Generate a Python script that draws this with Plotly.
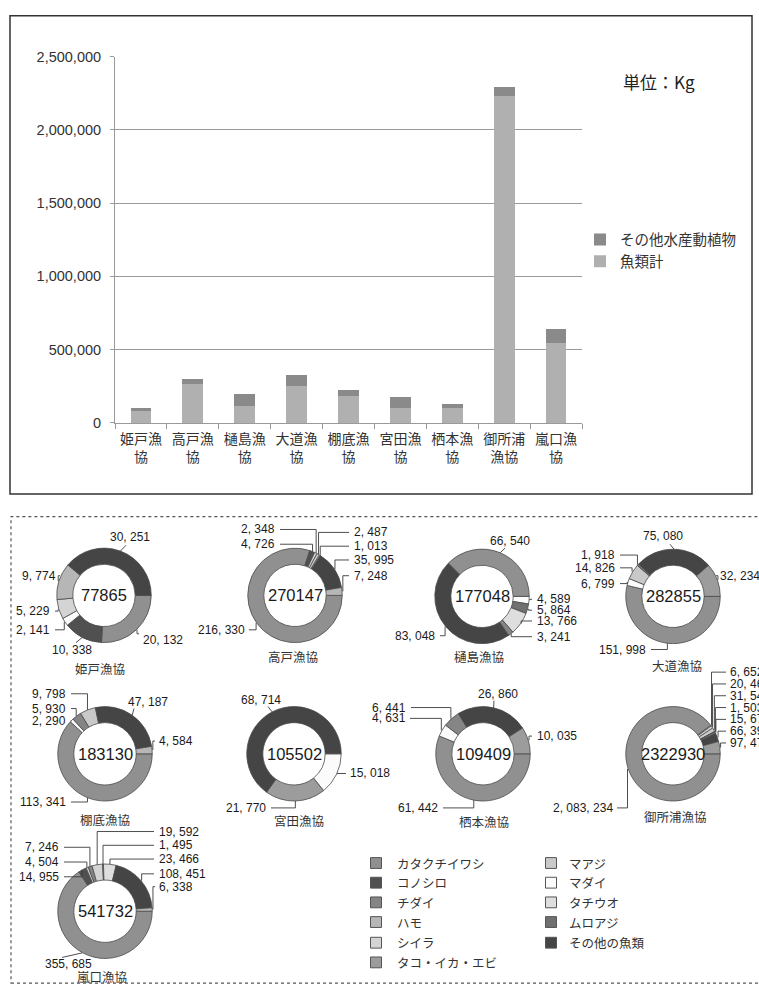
import plotly.graph_objects as go
import math

W, H = 759, 994

# ---------------- data ----------------
bar_categories = ["姫戸漁協", "高戸漁協", "樋島漁協", "大道漁協", "棚底漁協",
                  "宮田漁協", "栖本漁協", "御所浦漁協", "嵐口漁協"]
fish_total = [77865, 265000, 115000, 255000, 183000, 105000, 102000, 2230000, 542000]
other_total = [26000, 35000, 80000, 72000, 43000, 70000, 24000, 65000, 100000]

fish_categories = ["カタクチイワシ", "コノシロ", "チダイ", "ハモ", "シイラ", "タコ・イカ・エビ",
                   "マアジ", "マダイ", "タチウオ", "ムロアジ", "その他の魚類"]

donut_names = ["姫戸漁協", "高戸漁協", "樋島漁協", "大道漁協", "棚底漁協",
               "宮田漁協", "栖本漁協", "御所浦漁協", "嵐口漁協"]

himedo_values = [20132, 10338, 2141, 5229, 9774, 30251]
himedo_cats = ["カタクチイワシ", "コノシロ", "マダイ", "シイラ", "ハモ", "その他の魚類"]

takado_values = [216330, 4726, 2348, 2487, 1013, 35995, 7248]
takado_cats = ["カタクチイワシ", "コノシロ", "シイラ", "マアジ", "マダイ", "その他の魚類", "ハモ"]

hishima_values = [4589, 5864, 13766, 3241, 83048, 66540]
hishima_cats = ["マダイ", "ムロアジ", "タチウオ", "チダイ", "その他の魚類", "カタクチイワシ"]

oomichi_values = [151998, 6799, 14826, 1918, 75080, 32234]
oomichi_cats = ["カタクチイワシ", "マダイ", "マアジ", "ムロアジ", "その他の魚類", "タコ・イカ・エビ"]

tanasoko_values = [113341, 2290, 5930, 9798, 47187, 4584]
tanasoko_cats = ["カタクチイワシ", "マダイ", "チダイ", "マアジ", "その他の魚類", "ハモ"]

miyata_values = [15018, 21770, 68714]
miyata_cats = ["マダイ", "タコ・イカ・エビ", "その他の魚類"]

sumoto_values = [61442, 4631, 6441, 26860, 10035]
sumoto_cats = ["カタクチイワシ", "マダイ", "チダイ", "その他の魚類", "タコ・イカ・エビ"]

goshoura_values = [2083234, 6652, 20463, 31541, 1503, 15672, 66391, 97474]
goshoura_cats = ["カタクチイワシ", "マダイ", "シイラ", "マアジ", "ハモ", "ムロアジ", "その他の魚類", "タコ・イカ・エビ"]

arakuchi_values = [355685, 14955, 4504, 7246, 19592, 1495, 23466, 108451, 6338]
arakuchi_cats = ["カタクチイワシ", "コノシロ", "マアジ", "チダイ", "シイラ", "ムロアジ", "タチウオ", "その他の魚類", "ハモ"]

donut_values = [himedo_values, takado_values, hishima_values, oomichi_values, tanasoko_values,
                miyata_values, sumoto_values, goshoura_values, arakuchi_values]
donut_cats = [himedo_cats, takado_cats, hishima_cats, oomichi_cats, tanasoko_cats,
              miyata_cats, sumoto_cats, goshoura_cats, arakuchi_cats]

# ---------------- styles / layout positions ----------------
cat_colors = {
    "カタクチイワシ": "#909090", "コノシロ": "#505050", "チダイ": "#858585", "ハモ": "#b6b6b6",
    "シイラ": "#d4d4d4", "タコ・イカ・エビ": "#9c9c9c", "マアジ": "#c9c9c9", "マダイ": "#fbfbfb",
    "タチウオ": "#dedede", "ムロアジ": "#707070", "その他の魚類": "#454545",
}

# donut centres (px) and outer radius
donut_centres = [(104, 597), (295, 597), (482, 598), (673, 598),
                 (105, 758), (294, 758), (483, 758), (673, 758), (105, 918)]
donut_R = 48
hole_ratio = 0.66

title_pos = [(100, 671), (293, 659), (479, 659), (677, 668),
             (105, 825), (299, 826), (484, 827), (675, 822), (102, 984)]

# label layout per slice: (text x, text y, anchor, leader-start x, leader-start y)
label_layout = [
    [(141, 642, "left", 139, 636), (72, 653, "center", 76, 645), (52, 632, "right", 55, 632),
     (52, 613, "right", 55, 613), (58, 577, "right", 60, 577), (130, 538, "center", 126, 546)],
    [(247, 632, "right", 249, 632), (277, 545, "right", 280, 545), (277, 530, "right", 280, 530),
     (352, 533, "left", 349, 533), (352, 547, "left", 349, 547), (352, 561, "left", 349, 561),
     (352, 577, "left", 349, 577)],
    [(535, 601, "left", 532, 601), (535, 612, "left", 532, 612), (535, 623, "left", 532, 623),
     (535, 639, "left", 532, 639), (437, 638, "right", 440, 638), (510, 542, "center", 505, 549)],
    [(648, 652, "right", 651, 652), (617, 585, "right", 620, 585), (617, 569, "right", 620, 569),
     (617, 556, "right", 620, 556), (663, 537, "center", 670, 545), (718, 577, "left", 716, 577)],
    [(68, 807, "right", 71, 807), (68, 725, "right", 71, 725), (68, 712, "right", 71, 712),
     (68, 697, "right", 71, 697), (148, 705, "center", 134, 712), (157, 745, "left", 155, 745)],
    [(348, 778, "left", 346, 778), (268, 813, "right", 271, 813), (261, 703, "center", 268, 710)],
    [(440, 813, "right", 443, 813), (408, 722, "right", 410, 722), (408, 711, "right", 411, 711),
     (498, 697, "center", 494, 704), (535, 740, "left", 532, 740)],
    [(615, 813, "right", 617, 813), (728, 675, "left", 726, 675), (728, 687, "left", 726, 687),
     (728, 699, "left", 726, 699), (728, 711, "left", 726, 711), (728, 723, "left", 726, 723),
     (728, 735, "left", 726, 735), (728, 747, "left", 726, 747)],
    [(68, 972, "center", 62, 965), (61, 883, "right", 64, 883), (61, 868, "right", 64, 868),
     (61, 853, "right", 64, 853), (157, 837, "left", 154, 837), (157, 851, "left", 154, 851),
     (157, 865, "left", 154, 865), (157, 880, "left", 154, 880), (157, 893, "left", 155, 893)],
]

JP = "Noto Sans CJK JP"
NUM = "Liberation Sans"


def px(x):
    return x / W


def py(y):
    return 1 - y / H


fig = go.Figure()

# ---------------- bar chart ----------------
fig.add_trace(go.Bar(x=bar_categories, y=fish_total, name="魚類計", legendgroup="a",
                     marker=dict(color="#b0b0b0", line=dict(width=0)), width=0.4))
fig.add_trace(go.Bar(x=bar_categories, y=other_total, name="その他水産動植物", legendgroup="b",
                     marker=dict(color="#8a8a8a", line=dict(width=0)), width=0.4))

ticktext = [c[:3] + "<br>" + c[3:] for c in bar_categories]

# ---------------- donuts ----------------
shapes = []
annotations = []
for i, (vals, cats) in enumerate(zip(donut_values, donut_cats)):
    cx, cy = donut_centres[i]
    R = donut_R
    fig.add_trace(go.Pie(
        values=vals, labels=cats, hole=hole_ratio, sort=False, direction="clockwise",
        rotation=90, textinfo="none", showlegend=False,
        marker=dict(colors=[cat_colors[c] for c in cats], line=dict(color="#4a4a4a", width=0.8)),
        domain=dict(x=[px(cx - R), px(cx + R)], y=[py(cy + R), py(cy - R)]),
        hovertemplate="%{label}: %{value:,}<extra>" + donut_names[i] + "</extra>",
    ))
    total = sum(vals)
    annotations.append(dict(x=px(cx), y=py(cy), xref="paper", yref="paper", text=str(total),
                            showarrow=False, xanchor="center", yanchor="middle",
                            font=dict(family=NUM, size=16.5, color="#1a1a1a")))
    tx, ty = title_pos[i]
    annotations.append(dict(x=px(tx), y=py(ty), xref="paper", yref="paper", text=donut_names[i],
                            showarrow=False, xanchor="center", yanchor="middle",
                            font=dict(family=JP, size=12.5, color="#333")))
    cum = 0
    for v, lab in zip(vals, label_layout[i]):
        mid = 90 + 360 * (cum + v / 2) / total
        cum += v
        a = math.radians(mid)
        Px, Py = cx + R * math.sin(a), cy - R * math.cos(a)
        lx, ly, anchor, qx, qy = lab
        annotations.append(dict(x=px(lx), y=py(ly), xref="paper", yref="paper",
                                text=f"{v:,}".replace(",", ", "), showarrow=False,
                                xanchor=anchor, yanchor="middle",
                                font=dict(family=NUM, size=12, color="#1a1a1a")))
        if anchor == "center":
            path = f"M {px(qx)} {py(qy)} L {px(Px)} {py(Py)}"
        else:
            path = f"M {px(qx)} {py(qy)} L {px(Px)} {py(qy)} L {px(Px)} {py(Py)}"
        shapes.append(dict(type="path", xref="paper", yref="paper", path=path,
                           line=dict(color="#3a3a3a", width=0.9)))

# donut legend
leg_rows = [869, 889, 909, 929, 950, 970]
for k, cat in enumerate(fish_categories):
    col, row = divmod(k, 6)
    sx = 376 if col == 0 else 551
    tx = 395 if col == 0 else 567
    yy = leg_rows[row]
    shapes.append(dict(type="rect", xref="paper", yref="paper",
                       x0=px(sx - 5.5), x1=px(sx + 5.5), y0=py(yy + 5.5), y1=py(yy - 5.5),
                       fillcolor=cat_colors[cat], line=dict(color="#555", width=1)))
    annotations.append(dict(x=px(tx), y=py(yy), xref="paper", yref="paper", text=cat,
                            showarrow=False, xanchor="left", yanchor="middle",
                            font=dict(family=JP, size=12.5, color="#333")))

# frames
shapes.append(dict(type="rect", xref="paper", yref="paper", x0=px(10), x1=px(752),
                   y0=py(494), y1=py(8), line=dict(color="#333", width=1.5)))
shapes.append(dict(type="rect", xref="paper", yref="paper", x0=px(11), x1=px(790),
                   y0=py(991), y1=py(517), line=dict(color="#555", width=1.2, dash="dot")))

annotations.append(dict(x=px(621), y=py(75), xref="paper", yref="paper", text="単位：Kg",
                        showarrow=False, xanchor="left", yanchor="middle",
                        font=dict(family=JP, size=17, color="#222")))

fig.update_layout(
    width=W, height=H, margin=dict(l=0, r=0, t=0, b=0),
    paper_bgcolor="white", plot_bgcolor="white",
    barmode="stack", bargap=0.6,
    font=dict(family=JP, color="#333"),
    xaxis=dict(domain=[px(115), px(582)], showline=True, linecolor="#9a9a9a",
               ticks="outside", tickson="boundaries", ticklen=5, tickcolor="#9a9a9a",
               tickvals=bar_categories, ticktext=ticktext, tickangle=0, ticklabelstandoff=3,
               tickfont=dict(family=JP, size=14, color="#333"), anchor="y"),
    yaxis=dict(domain=[py(421.7), py(49.3)], range=[0, 2500000], dtick=500000,
               tickformat=",", showline=True, linecolor="#9a9a9a", gridcolor="#9a9a9a",
               ticks="outside", ticklen=4, tickcolor="#9a9a9a", zeroline=False,
               ticklabelstandoff=6,
               tickfont=dict(family=NUM, size=14.5, color="#333"), anchor="x"),
    legend=dict(x=px(580), y=py(219), xanchor="left", yanchor="top", traceorder="reversed",
                tracegroupgap=16, font=dict(family=JP, size=14.5, color="#333"),
                bgcolor="rgba(0,0,0,0)", itemwidth=30),
    shapes=shapes, annotations=annotations,
)

fig.write_html("out.html")
